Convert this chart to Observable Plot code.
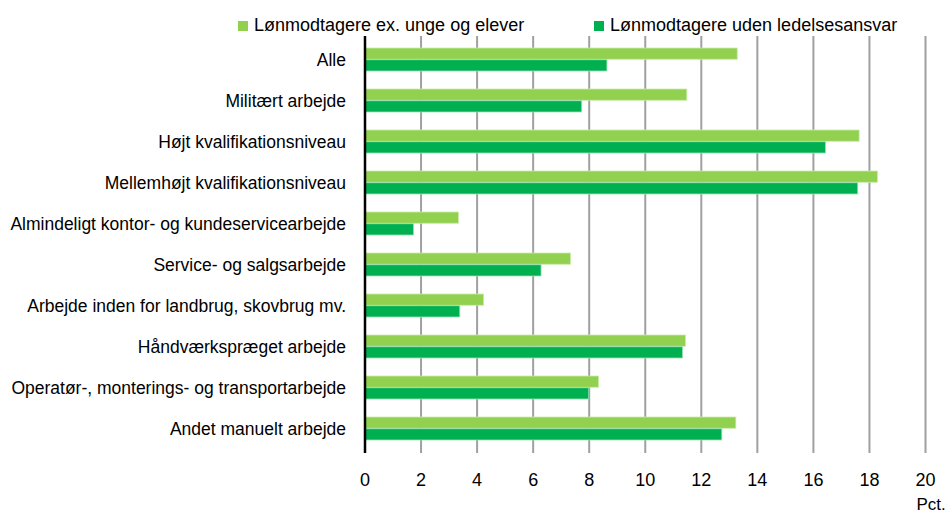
<!DOCTYPE html>
<html>
<head>
<meta charset="utf-8">
<script src="https://cdn.jsdelivr.net/npm/d3@7"></script>
<script src="https://cdn.jsdelivr.net/npm/@observablehq/plot@0.6"></script>
<style>
  html, body { margin: 0; padding: 0; background: #fff; }
  body { width: 946px; height: 513px; position: relative; overflow: hidden;
         font-family: "Liberation Sans Narrow", "Arial Narrow", "Liberation Sans", sans-serif; }
  #legend { position: relative; height: 36px; width: 946px; }
  .item { position: absolute; top: 15px; font-size: 18px; line-height: 20px; color: #000; white-space: nowrap; }
  .sw { display: inline-block; width: 10px; height: 10px; margin-right: 6px; vertical-align: 0px; }
  #chart svg { display: block; }
</style>
</head>
<body>
<div id="legend"></div>
<div id="chart"></div>
<script>
const categories = [
  "Alle",
  "Militært arbejde",
  "Højt kvalifikationsniveau",
  "Mellemhøjt kvalifikationsniveau",
  "Almindeligt kontor- og kundeservicearbejde",
  "Service- og salgsarbejde",
  "Arbejde inden for landbrug, skovbrug mv.",
  "Håndværkspræget arbejde",
  "Operatør-, monterings- og transportarbejde",
  "Andet manuelt arbejde"
];
const seriesNames = ["Lønmodtagere ex. unge og elever", "Lønmodtagere uden ledelsesansvar"];
const seriesA = [13.3, 11.5, 17.65, 18.3, 3.35, 7.35, 4.25, 11.45, 8.35, 13.25];
const seriesB = [8.65, 7.75, 16.45, 17.6, 1.75, 6.3, 3.4, 11.35, 8.0, 12.75];
const xTicks = [0, 2, 4, 6, 8, 10, 12, 14, 16, 18, 20];
const unitLabel = "Pct.";
const colors = ["#92D050", "#00B050"];

const FONT = '"Liberation Sans Narrow", "Arial Narrow", "Liberation Sans", sans-serif';

// legend
const legend = document.getElementById("legend");
const legendLeft = [238, 594];
seriesNames.forEach((name, i) => {
  const d = document.createElement("div");
  d.className = "item";
  d.style.left = legendLeft[i] + "px";
  d.innerHTML = `<span class="sw" style="background:${colors[i]}"></span>${name}`;
  legend.appendChild(d);
});

const dataA = categories.map((c, i) => ({category: c, value: seriesA[i]}));
const dataB = categories.map((c, i) => ({category: c, value: seriesB[i]}));
const half = 11.75;

const chart = Plot.plot({
  width: 946,
  height: 477,
  marginTop: 0,
  marginBottom: 60,
  marginLeft: 364.5,
  marginRight: 21,
  style: {fontFamily: FONT, fontSize: "18px", color: "#000", background: "#fff"},
  x: {domain: [0, 20]},
  y: {domain: categories, paddingInner: 0.436, paddingOuter: 0.218},
  marks: [
    Plot.gridX(xTicks, {stroke: "#a0a0a0", strokeWidth: 2, strokeOpacity: 1}),
    Plot.barX(dataA, {x: "value", y: "category", fill: colors[0], insetBottom: half, stroke: "#c8eaa8", strokeWidth: 0.8}),
    Plot.barX(dataB, {x: "value", y: "category", fill: colors[1], insetTop: half, stroke: "#9be0b4", strokeWidth: 0.8}),
    Plot.ruleX([0], {stroke: "#000", strokeWidth: 2.5}),
    Plot.axisY({tickSize: 0, tickPadding: 19, fontSize: 17.5, label: null}),
    Plot.axisX(xTicks, {tickSize: 0, tickPadding: 20, fontSize: 18, label: null, tickFormat: d => String(d)}),
    Plot.text([unitLabel], {frameAnchor: "bottom-right", text: d => d, textAnchor: "start", lineAnchor: "top", dx: -9, dy: 44, fontSize: 17})
  ]
});
document.getElementById("chart").appendChild(chart);
</script>
</body>
</html>
